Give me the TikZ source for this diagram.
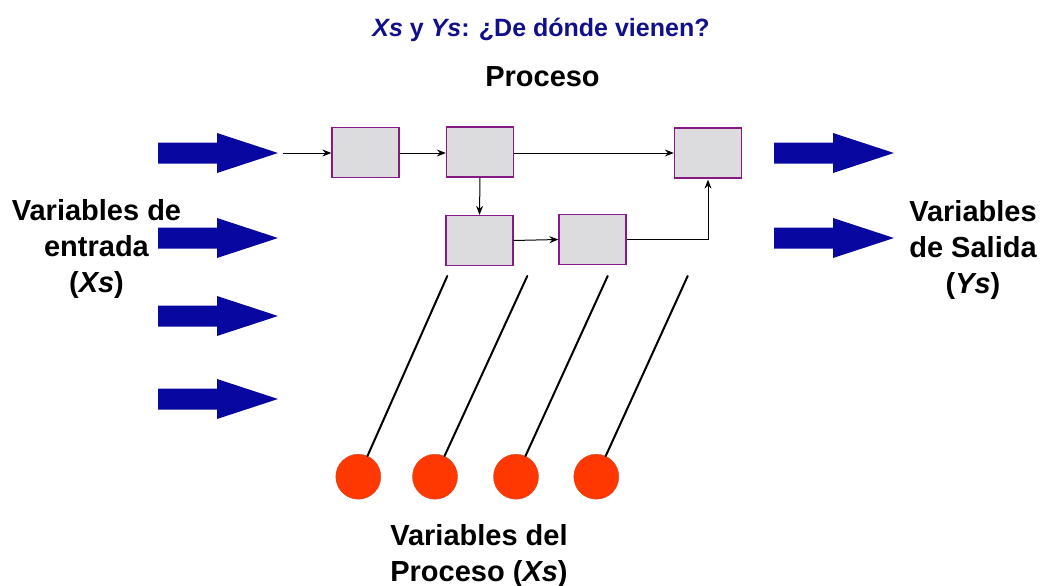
\documentclass[tikz,border=0pt]{standalone}
\usepackage{fontspec}
\setmainfont{Liberation Sans}
\usetikzlibrary{arrows.meta}
\definecolor{arrowblue}{RGB}{8,8,160}
\definecolor{titleblue}{RGB}{16,16,140}
\definecolor{boxfill}{RGB}{220,220,223}
\definecolor{boxline}{RGB}{135,25,135}
\definecolor{dotred}{RGB}{255,55,0}
\tikzset{
  procbox/.style={draw=boxline, line width=1.3pt, fill=boxfill, minimum width=67pt, minimum height=50pt, inner sep=0pt},
  flow/.style={line width=1pt, -{Stealth[length=9pt,width=7pt,inset=3pt]}},
  stem/.style={line width=2pt, line cap=round},
  dot/.style={circle, fill=dotred, draw=dotred!70!gray, line width=0.4pt, minimum size=45pt, inner sep=0pt},
  lbl/.style={font=\bfseries\fontsize{29}{36}\selectfont, align=center, anchor=base, inner sep=0pt},
  blockarrow/.pic={\fill[arrowblue] (0,-10.5) -- (59,-10.5) -- (59,-20) -- (120,0) -- (59,20) -- (59,10.5) -- (0,10.5) -- cycle;}
}
\begin{document}
\begin{tikzpicture}[x=1pt,y=-1pt]
\useasboundingbox (0,0) rectangle (1044,586);
% title
\node[lbl, font=\bfseries\fontsize{25}{30}\selectfont, text=titleblue] (title) at (541,37) {\textit{Xs} y \textit{Ys}: ¿De dónde vienen?};
\node[lbl] (proc) at (542.5,86.5) {Proceso};
% side labels (base anchor = baseline of last line)
\node[lbl] (inlbl) at (96.5,292) {Variables de\\entrada\\(\textit{Xs})};
\node[lbl] (outlbl) at (973,293) {Variables\\de Salida\\(\textit{Ys})};
\node[lbl] (pvlbl) at (479,581) {Variables del\\Proceso (\textit{Xs})};
% block arrows
\foreach \yy in {153,238,316,399} \pic at (158,\yy) {blockarrow};
\foreach \yy in {153,238} \pic at (774,\yy) {blockarrow};
% process boxes
\node[procbox] (b1) at (365.5,152.5) {};
\node[procbox] (b2) at (480,152) {};
\node[procbox] (b3) at (479.5,240.5) {};
\node[procbox] (b4) at (592.5,239.5) {};
\node[procbox] (b5) at (708,153) {};
\coordinate (a0) at (283,153);
\draw[flow] (a0) -- (b1.west |- a0);
\draw[flow] (b1.east |- a0) -- (b2.west |- a0);
\draw[flow] (b2.east |- a0) -- (b5.west |- a0);
\draw[flow] (b2.south) -- (b3.north);
\draw[flow] (b3.east) -- (b4.west);
\draw[flow] (b4.east) -| ([yshift=-1pt]b5.south);
% process variables
\node[dot] (c1) at (358.3,476.7) {};
\node[dot] (c2) at (435,476.7) {};
\node[dot] (c3) at (516,476.7) {};
\node[dot] (c4) at (596.3,476.7) {};
\coordinate (t1) at (447.3,276);
\coordinate (t2) at (527.3,276);
\coordinate (t3) at (607.7,276);
\coordinate (t4) at (687.7,276);
\draw[stem] (t1) -- (c1);
\draw[stem] (t2) -- (c2);
\draw[stem] (t3) -- (c3);
\draw[stem] (t4) -- (c4);
\end{tikzpicture}
\end{document}
